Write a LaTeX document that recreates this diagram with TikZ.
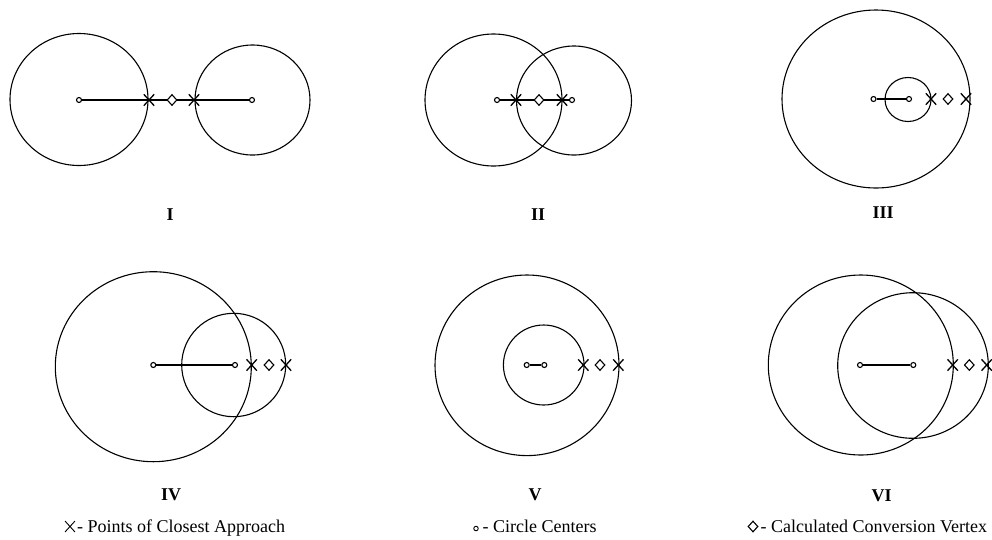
\documentclass[tikz,border=0pt]{standalone}
\usepackage{fontspec}
\setmainfont{Liberation Serif}
\usetikzlibrary{shapes.misc,shapes.geometric}
\begin{document}
\begin{tikzpicture}[x=1pt,y=-1pt,line width=1.1pt,
 ctr/.style={circle,draw,fill=white,inner sep=0pt,minimum size=5pt,line width=1.1pt},
 xmark/.style={cross out,draw,inner sep=0pt,minimum width=9pt,minimum height=10pt,line width=1.3pt},
 vtx/.style={diamond,draw,fill=white,inner sep=0pt,minimum width=10pt,minimum height=11pt,line width=1.1pt},
 ring/.style={draw,line width=1.1pt},
 link/.style={draw,line width=1.1pt},
 numlabel/.style={font=\fontsize{18}{21}\selectfont\bfseries,inner sep=0pt},
 legend/.style={font=\fontsize{18}{21}\selectfont,anchor=base west,inner sep=0pt}]
\useasboundingbox (0,0) rectangle (992,539);

% ---------- Panel I ----------
\draw[ring] (79,99.5) ellipse [x radius=69, y radius=66];
\draw[ring] (252.5,100) ellipse [x radius=57.5, y radius=55];
\node[ctr] (a1) at (79,100) {};
\node[ctr] (b1) at (252,100) {};
\draw[link] (a1) -- (b1);
\node[xmark] (p1) at (149,100) {};
\node[xmark] (q1) at (194,100) {};
\node[vtx] (v1) at (172,100) {};
\node[numlabel] (l1) at (170,215) {I};

% ---------- Panel II ----------
\draw[ring] (493.5,100) ellipse [x radius=68.5, y radius=66];
\draw[ring] (574,100.5) ellipse [x radius=57.5, y radius=54.5];
\node[ctr] (a2) at (497,100) {};
\node[ctr] (b2) at (572,100) {};
\draw[link] (a2) -- (b2);
\node[xmark] (p2) at (516,100) {};
\node[xmark] (q2) at (562,100) {};
\node[vtx] (v2) at (539,100) {};
\node[numlabel] (l2) at (538,215) {II};

% ---------- Panel III ----------
\draw[ring] (876,99) ellipse [x radius=94, y radius=89];
\draw[ring] (908,99.5) ellipse [x radius=23, y radius=22];
\node[ctr] (a3) at (873.5,99) {};
\node[ctr] (b3) at (909,99) {};
\draw[link] (a3) -- (b3);
\node[xmark] (p3) at (931,99) {};
\node[xmark] (q3) at (966,99) {};
\node[vtx] (v3) at (948,99) {};
\node[numlabel] (l3) at (883,213) {III};

% ---------- Panel IV ----------
\draw[ring] (153.3,366.7) ellipse [x radius=98, y radius=95];
\draw[ring] (233.7,365) ellipse [x radius=52, y radius=51.7];
\node[ctr] (a4) at (153.3,365) {};
\node[ctr] (b4) at (235,365) {};
\draw[link] (a4) -- (b4);
\node[xmark] (p4) at (251.7,365) {};
\node[xmark] (q4) at (286,365) {};
\node[vtx] (v4) at (269,365) {};
\node[numlabel] (l4) at (171,495) {IV};

% ---------- Panel V ----------
\draw[ring] (527,365.3) ellipse [x radius=92, y radius=90.3];
\draw[ring] (543.7,365) ellipse [x radius=40.3, y radius=40];
\node[ctr] (a5) at (526.7,365) {};
\node[ctr] (b5) at (544.3,365) {};
\draw[link] (a5) -- (b5);
\node[xmark] (p5) at (583.3,365) {};
\node[xmark] (q5) at (618.3,365) {};
\node[vtx] (v5) at (600,365) {};
\node[numlabel] (l5) at (535,495) {V};

% ---------- Panel VI ----------
\draw[ring] (860.8,365) ellipse [x radius=92.5, y radius=90];
\draw[ring] (913,365.5) ellipse [x radius=75.3, y radius=72.8];
\node[ctr] (a6) at (860,365) {};
\node[ctr] (b6) at (913.3,365) {};
\draw[link] (a6) -- (b6);
\node[xmark] (p6) at (952.7,365) {};
\node[xmark] (q6) at (986.7,365) {};
\node[vtx] (v6) at (969.3,365) {};
\node[numlabel] (l6) at (881.7,496) {VI};

% ---------- Legend ----------
\node[xmark,line width=0.9pt] (kx) at (70,526.5) {};
\node[legend] (tx) at (76.5,532) {- Points of Closest Approach};
\node[ctr,line width=0.9pt,minimum size=4.5pt] (kc) at (476,528.5) {};
\node[legend] (tc) at (482,532) {- Circle Centers};
\node[vtx] (kd) at (753,526.5) {};
\node[legend] (td) at (760,532) {- Calculated Conversion Vertex};
\end{tikzpicture}
\end{document}
